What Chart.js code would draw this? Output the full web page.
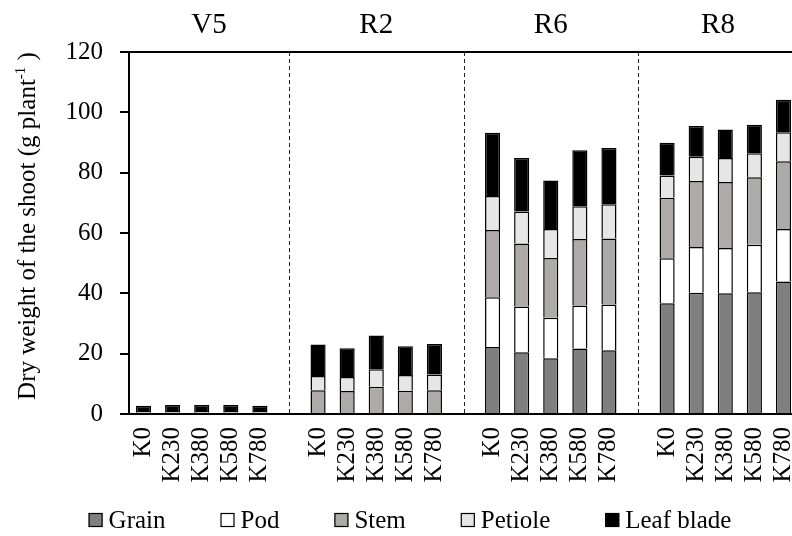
<!DOCTYPE html>
<html>
<head>
<meta charset="utf-8">
<script src="https://cdn.jsdelivr.net/npm/chart.js@4.4.0/dist/chart.umd.min.js"></script>
<style>
  html, body { margin: 0; padding: 0; overflow: hidden; background: #fff; }
  #wrap { position: absolute; left: 0; top: 0; width: 800px; height: 536px; }
</style>
</head>
<body>
<div id="wrap"><canvas id="shootChart"></canvas></div>
<script>
// categories: 5 K rates per growth stage, blank slot between stages
const categories = ['K0', 'K230', 'K380', 'K580', 'K780', '',
                    'K0', 'K230', 'K380', 'K580', 'K780', '',
                    'K0', 'K230', 'K380', 'K580', 'K780', '',
                    'K0', 'K230', 'K380', 'K580', 'K780'];
const stages = ['V5', 'R2', 'R6', 'R8'];
const separators = [5, 11, 17]; // blank slots holding the dashed lines

// dry weight per organ (g plant-1)
const grain = [null, null, null, null, null, null,
               null, null, null, null, null, null,
               22.2, 20.5, 18.5, 21.7, 21.1, null,
               36.7, 40.2, 40.0, 40.4, 43.9];
const pod = [null, null, null, null, null, null,
             null, null, null, null, null, null,
             16.5, 15.1, 13.4, 14.3, 15.2, null,
             14.9, 15.2, 15.0, 15.7, 17.4];
const stem = [0.4, 0.4, 0.4, 0.4, 0.4, null,
              7.9, 7.6, 9.0, 7.7, 7.9, null,
              22.3, 20.9, 19.8, 22.0, 21.9, null,
              20.1, 21.8, 21.9, 22.4, 22.5];
const petiole = [0.3, 0.3, 0.3, 0.3, 0.3, null,
                 4.7, 4.7, 5.8, 5.2, 5.2, null,
                 11.3, 10.6, 9.6, 10.9, 11.3, null,
                 7.4, 8.1, 8.0, 7.9, 9.6];
const leafBlade = [2.0, 2.3, 2.3, 2.3, 2.0, null,
                   10.4, 9.5, 11.2, 9.6, 10.1, null,
                   20.9, 17.8, 16.1, 18.5, 18.7, null,
                   10.8, 10.2, 9.4, 9.5, 10.8];

const FONT = "'Liberation Serif', 'Times New Roman', serif";

function series(label, data, color) {
    return {
        label: label,
        data: data,
        backgroundColor: color,
        borderColor: '#000',
        borderWidth: 1.5,
        categoryPercentage: 1,
        barPercentage: 0.52
    };
}

// dashed stage separators, stage names on top, y title with superscript, legend
const decorations = {
    id: 'decorations',
    afterDraw(chart) {
        const ctx = chart.ctx;
        const area = chart.chartArea;
        const x = chart.scales.x;

        ctx.save();
        ctx.strokeStyle = '#222';
        ctx.lineWidth = 1;
        ctx.setLineDash([4, 3]);
        const sepX = separators.map(s => x.getPixelForValue(s));
        sepX.forEach(px => {
            ctx.beginPath();
            ctx.moveTo(Math.round(px) + 0.5, area.top);
            ctx.lineTo(Math.round(px) + 0.5, area.bottom);
            ctx.stroke();
        });
        ctx.setLineDash([]);

        // stage labels centred in each region
        const bounds = [area.left].concat(sepX, [area.right]);
        ctx.fillStyle = '#000';
        ctx.font = '29px ' + FONT;
        ctx.textAlign = 'center';
        ctx.textBaseline = 'alphabetic';
        stages.forEach((s, i) => {
            ctx.fillText(s, (bounds[i] + bounds[i + 1]) / 2, 33);
        });

        // y axis title
        ctx.translate(28, 226);
        ctx.rotate(-Math.PI / 2);
        ctx.textBaseline = 'middle';
        ctx.textAlign = 'left';
        const main = 'Dry weight of the shoot (g plant';
        const sup = '-1';
        const tail = ' )';
        ctx.font = '25px ' + FONT;
        const w1 = ctx.measureText(main).width;
        const w3 = ctx.measureText(tail).width;
        ctx.font = '15px ' + FONT;
        const w2 = ctx.measureText(sup).width;
        let cx = -(w1 + w2 + w3) / 2;
        ctx.font = '25px ' + FONT;
        ctx.fillText(main, cx, 0);
        cx += w1;
        ctx.font = '15px ' + FONT;
        ctx.fillText(sup, cx, -7);
        cx += w2;
        ctx.font = '25px ' + FONT;
        ctx.fillText(tail, cx, 0);
        ctx.restore();

        // legend
        ctx.save();
        ctx.font = '25px ' + FONT;
        ctx.textBaseline = 'middle';
        ctx.textAlign = 'left';
        const box = 14, gapText = 6, gapItem = 55, ly = 520;
        const items = chart.data.datasets.map(d => ({
            label: d.label, color: d.backgroundColor,
            w: box + gapText + ctx.measureText(d.label).width
        }));
        const total = items.reduce((a, it) => a + it.w, 0) + gapItem * (items.length - 1);
        let lx = 410 - total / 2;
        items.forEach(it => {
            ctx.fillStyle = it.color;
            ctx.fillRect(lx, ly - box / 2, box, box);
            ctx.strokeStyle = '#000';
            ctx.lineWidth = 1.2;
            ctx.strokeRect(lx + 0.5, ly - box / 2 + 0.5, box - 1, box - 1);
            ctx.fillStyle = '#000';
            ctx.fillText(it.label, lx + box + gapText, ly + 1);
            lx += it.w + gapItem;
        });
        ctx.restore();
    }
};

const ctx = document.getElementById('shootChart').getContext('2d');

new Chart(ctx, {
    type: 'bar',
    data: {
        labels: categories,
        datasets: [
            series('Grain', grain, '#7f7f7f'),
            series('Pod', pod, '#ffffff'),
            series('Stem', stem, '#aeaaaa'),
            series('Petiole', petiole, '#e7e6e6'),
            series('Leaf blade', leafBlade, '#000000')
        ]
    },
    options: {
        responsive: true,
        maintainAspectRatio: false,
        animation: false,
        layout: { padding: { top: 52, right: 2, bottom: 46, left: 0 } },
        plugins: {
            legend: { display: false },
            tooltip: { enabled: false }
        },
        scales: {
            x: {
                stacked: true,
                grid: { display: false, drawTicks: false },
                border: { display: true, color: '#000', width: 2 },
                ticks: {
                    color: '#000',
                    font: { family: FONT, size: 25 },
                    maxRotation: 90,
                    minRotation: 90,
                    autoSkip: false,
                    padding: 13
                },
                afterFit: (scale) => {
                    scale.height = 76;
                    scale.paddingLeft = 0;
                    scale.paddingRight = 0;
                }
            },
            y: {
                stacked: true,
                min: 0,
                max: 120,
                ticks: {
                    stepSize: 20,
                    color: '#000',
                    font: { family: FONT, size: 25 },
                    padding: 17
                },
                grid: {
                    color: (c) => (c.tick && c.tick.value === 120 ? '#000' : 'rgba(0,0,0,0)'),
                    lineWidth: 2,
                    tickColor: '#000',
                    tickLength: 9,
                    tickWidth: 2
                },
                border: { display: true, color: '#000', width: 2 },
                afterFit: (scale) => { scale.width = 129; }
            }
        }
    },
    plugins: [decorations]
});
</script>
</body>
</html>
